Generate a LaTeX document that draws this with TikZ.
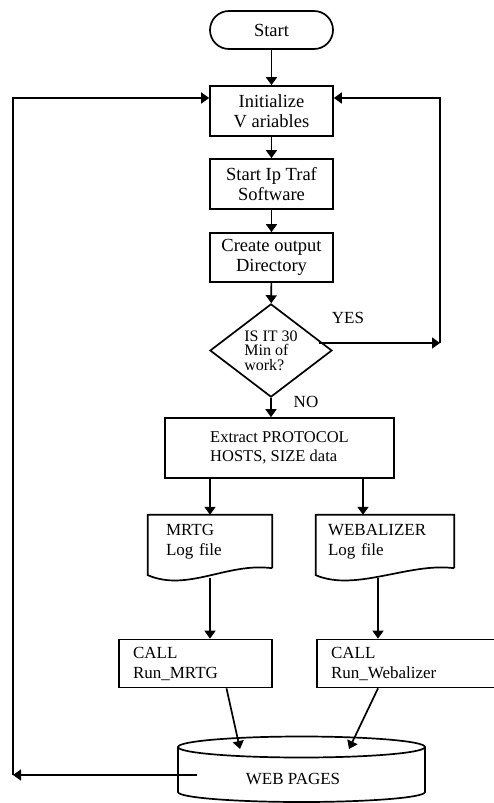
\documentclass[tikz,border=0pt]{standalone}
\usepackage{fontspec}
\setmainfont{Liberation Serif}
\usetikzlibrary{shapes.geometric,arrows.meta}

% outline of a log file (wavy bottom) round a node
\newcommand{\logshape}[1]{%
  \draw[line] (#1.south east) -- (#1.north east) -- (#1.north west) -- ([yshift=-7pt]#1.south west)
    .. controls ([xshift=40pt,yshift=-24pt]#1.south west) and ([xshift=-45pt,yshift=6pt]#1.south east) .. (#1.south east);}

\begin{document}
\begin{tikzpicture}[x=1pt, y=-1pt,
  line/.style={line width=1.7pt, line join=miter},
  arr/.style={line, -{Triangle[length=8pt,width=11pt]}},
  big/.style={font=\fontsize{18.5}{20}\selectfont},
  small/.style={font=\fontsize{17}{20}\selectfont},
  box/.style={draw, line, big, align=center, inner sep=2pt, minimum width=123pt, minimum height=50pt},
  logbox/.style={small, align=left, inner ysep=0pt, minimum height=53pt},
  callbox/.style={draw, line, small, align=left, inner ysep=0pt, minimum height=48pt}]

  \useasboundingbox (0,0) rectangle (493,803);

  % start and the first steps
  \node[box, rounded corners=19pt, minimum height=38pt] (start) at (271.5,30) {Start};
  \node[box] (init) at (271.5,111) {Initialize\\V ariables};
  \node[box] (traf) at (271.5,184) {Start Ip Traf\\Software};
  \node[box, minimum height=49pt] (dir) at (271.5,257.5) {Create output\\Directory};

  % the test
  \node[draw, line, diamond, minimum width=122pt, minimum height=85pt, inner sep=0pt, align=left,
        font=\fontsize{16}{14.5}\selectfont] (dia) at (271,350.5) {IS IT 30\\Min of\\work?};
  \node[small] (yes) at (348,318) {YES};
  \node[small] (no) at (306,402) {NO};

  % data extraction
  \node[draw, line, align=left, minimum width=229pt, minimum height=60pt,
        font=\fontsize{16.5}{19}\selectfont] (ext) at (279.5,448) {Extract PROTOCOL\\HOSTS, SIZE data};

  % log files
  \node[logbox, text width=88pt, inner xsep=18pt] (mlog) at (210,541.5) {MRTG\\Log file};
  \node[logbox, text width=114pt, inner xsep=12pt] (wlog) at (385,541.5) {WEBALIZER\\Log file};
  \logshape{mlog}
  \logshape{wlog}

  % calls
  \node[callbox, text width=125pt, inner xsep=14pt] (lcall) at (195.5,663.5) {CALL\\Run\_MRTG};
  \node[callbox, text width=150pt, inner xsep=14pt] (rcall) at (406,663.5) {CALL\\Run\_Webalizer};

  % web pages store
  \draw[line] (178,747) -- (178,792) arc[start angle=180, end angle=360, x radius=123.5pt, y radius=10pt] -- (425,747);
  \draw[line] (301.5,747) ellipse[x radius=123.5pt, y radius=10.5pt];
  \node[small] (web) at (293,779) {WEB PAGES};

  % main flow
  \draw[arr] (start) -- (init);
  \draw[arr] (init) -- (traf);
  \draw[arr] (traf) -- (dir);
  \draw[arr] (dir) -- (dia);
  \draw[arr] (dia.south) -- (dia.south |- ext.north);

  % yes: back to the start
  \coordinate (rc) at (440,343);
  \draw[arr] ([xshift=-14pt]dia.east |- rc) -- (rc);
  \draw[arr] (rc) |- ([yshift=13pt]init.east);

  % split into the two logs
  \draw[arr] (mlog.north |- ext.south) -- (mlog.north);
  \draw[arr] ([xshift=-22pt]wlog.north |- ext.south) -- ([xshift=-22pt]wlog.north);
  \draw[arr] ([yshift=-10pt]mlog.south) -- (mlog.south |- lcall.north);
  \draw[arr] ([xshift=-7pt,yshift=-10pt]wlog.south) -- ([xshift=-7pt]wlog.south |- rcall.north);

  % into the web pages
  \coordinate (lin) at (240,749);
  \coordinate (rin) at (349,749);
  \draw[arr] ([xshift=31pt]lcall.south) -- (lin);
  \draw[arr] ([xshift=-28pt]rcall.south) -- (rin);

  % loop from the web pages
  \coordinate (wout) at (197,775);
  \coordinate (lc) at (13,775);
  \draw[arr] (wout) -- (lc);
  \draw[arr] (lc) |- ([yshift=13pt]init.west);

\end{tikzpicture}
\end{document}
